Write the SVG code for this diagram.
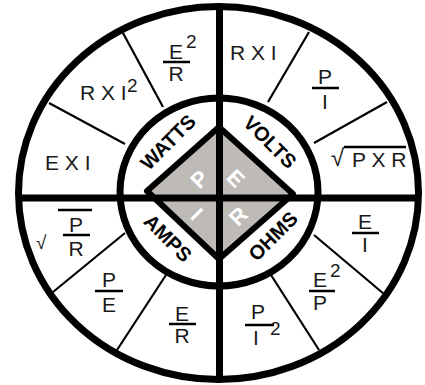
<svg xmlns="http://www.w3.org/2000/svg" width="425" height="385" viewBox="0 0 425 385">
<style>
.ring{fill:none;stroke:#000;stroke-width:7}
.axis{stroke:#000;stroke-width:7}
.div{stroke:#000;stroke-width:2.2}
.bar{stroke:#000;stroke-width:2.5}
.f{font-family:"Liberation Sans",Arial,sans-serif;font-size:21px;fill:#1a1a1a}
.c{text-anchor:middle}
.s{font-size:19px}
.lab{font-family:"Liberation Sans",Arial,sans-serif;font-weight:bold;font-size:20px;fill:#000;text-anchor:middle}
.let{font-family:"Liberation Sans",Arial,sans-serif;font-weight:bold;font-size:22px;fill:#fff;text-anchor:middle}
</style>
<rect width="425" height="385" fill="#fff"/>
<g id="wheel">
<ellipse class="ring" cx="218.5" cy="193" rx="200" ry="186.5"/>
<ellipse class="ring" cx="219" cy="192" rx="99" ry="94"/>
</g>
<g id="core">
<polygon points="219,127 293,194 219,259 147,191" fill="#bebab6" stroke="#000" stroke-width="6" stroke-linejoin="round"/>
</g>
<g id="connectors">
<line class="axis" x1="219.5" y1="5" x2="219.5" y2="381"/>
<line class="axis" x1="17" y1="198" x2="420" y2="198"/>
<line class="div" x1="123" y1="33" x2="163" y2="107"/>
<line class="div" x1="49" y1="103" x2="125" y2="144"/>
<line class="div" x1="309" y1="32" x2="268" y2="102"/>
<line class="div" x1="387" y1="102" x2="314" y2="143"/>
<line class="div" x1="125" y1="233" x2="53" y2="292"/>
<line class="div" x1="166" y1="275" x2="117" y2="350"/>
<line class="div" x1="314" y1="235" x2="384" y2="294"/>
<line class="div" x1="271" y1="275" x2="319" y2="350"/>
</g>
<g id="letters">
<text class="let" transform="translate(199,179) rotate(-45)" y="8">P</text>
<text class="let" transform="translate(236,178) rotate(45)" y="8">E</text>
<text class="let" transform="translate(197,214) rotate(45)" y="8">I</text>
<text class="let" transform="translate(238,216) rotate(-45)" y="8">R</text>
</g>
<g id="watts"><text class="lab" transform="translate(168,142) rotate(-45)" y="7">WATTS</text></g>
<g id="volts"><text class="lab" transform="translate(270,142) rotate(45)" y="7">VOLTS</text></g>
<g id="amps"><text class="lab" transform="translate(168,238) rotate(45)" y="7">AMPS</text></g>
<g id="ohms"><text class="lab" transform="translate(273,236) rotate(-45)" y="7">OHMS</text></g>
<g id="p-e2-r">
<text class="f c" x="176" y="59">E</text><text class="f s" x="186" y="48">2</text>
<line class="bar" x1="163" y1="62" x2="190" y2="62"/>
<text class="f c" x="176" y="81">R</text>
</g>
<g id="p-rxi2"><text class="f" x="80" y="100" xml:space="preserve">R X I</text><text class="f s" x="127" y="92">2</text></g>
<g id="p-exi"><text class="f" x="45" y="170" xml:space="preserve">E X I</text></g>
<g id="e-rxi"><text class="f" x="230" y="60" xml:space="preserve">R X I</text></g>
<g id="e-p-i">
<text class="f c" x="325" y="84">P</text>
<line class="bar" x1="312" y1="88" x2="339" y2="88"/>
<text class="f c" x="325" y="109">I</text>
</g>
<g id="e-sqrt">
<text class="f" x="331" y="166" style="font-size:24px">√</text>
<line class="bar" x1="344" y1="147" x2="406" y2="147"/>
<text class="f" x="352" y="167" xml:space="preserve">P X R</text>
</g>
<g id="i-sqrt">
<text class="f s" x="36" y="249">√</text>
<line class="bar" x1="58" y1="210" x2="92" y2="210"/>
<text class="f c" x="76" y="232">P</text>
<line class="bar" x1="63" y1="235" x2="90" y2="235"/>
<text class="f c" x="76" y="256">R</text>
</g>
<g id="i-p-e">
<text class="f c" x="109" y="287">P</text>
<line class="bar" x1="95" y1="291" x2="123" y2="291"/>
<text class="f c" x="109" y="312">E</text>
</g>
<g id="i-e-r">
<text class="f c" x="182" y="321">E</text>
<line class="bar" x1="169" y1="324" x2="196" y2="324"/>
<text class="f c" x="182" y="343">R</text>
</g>
<g id="r-e-i">
<text class="f c" x="365" y="229">E</text>
<line class="bar" x1="352" y1="233" x2="379" y2="233"/>
<text class="f c" x="365" y="252">I</text>
</g>
<g id="r-e2-p">
<text class="f c" x="320" y="287">E</text><text class="f s" x="330" y="277">2</text>
<line class="bar" x1="309" y1="291" x2="335" y2="291"/>
<text class="f c" x="320" y="310">P</text>
</g>
<g id="r-p-i2">
<text class="f c" x="258" y="319">P</text>
<line class="bar" x1="245" y1="325" x2="274" y2="325"/>
<text class="f c" x="256" y="345">I</text><text class="f s" x="270" y="335">2</text>
</g>
</svg>
